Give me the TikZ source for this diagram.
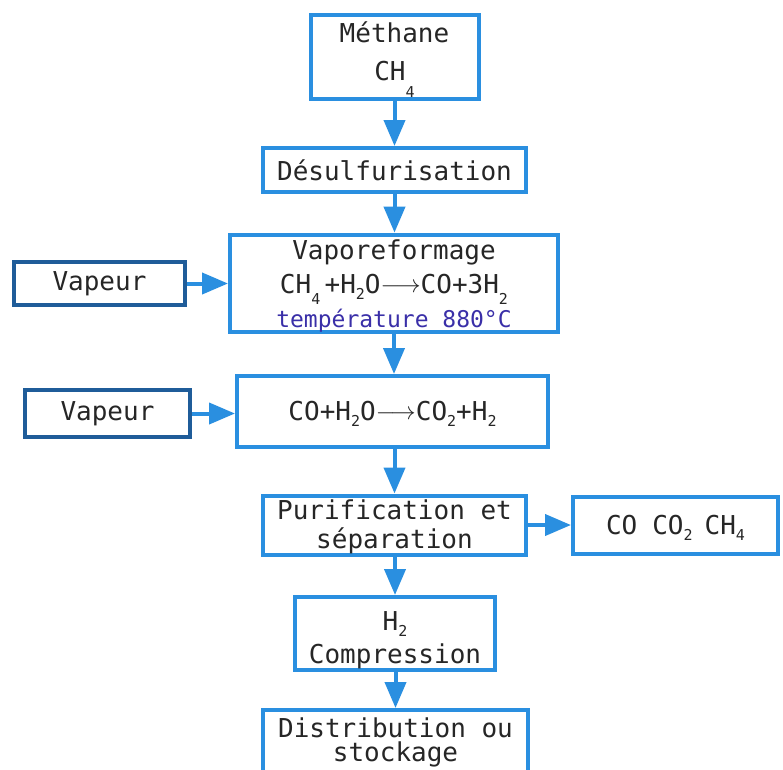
\documentclass[tikz,border=0pt]{standalone}
\usepackage{fontspec}
\setmonofont{DejaVu Sans Mono}
\usetikzlibrary{arrows.meta}
\definecolor{bl}{HTML}{2A8FE0}
\definecolor{dbl}{HTML}{1F5C99}
\definecolor{txt}{HTML}{262626}
\definecolor{tmp}{HTML}{3A2FA8}
\newcommand{\sbx}[2][6pt]{\raisebox{-#1}[0pt][0pt]{\fontsize{15}{15}\selectfont #2}}
\newcommand{\rarr}{\raisebox{0.05em}{$\longrightarrow$}}
\begin{document}
\begin{tikzpicture}[x=1pt,y=-1pt,
  box/.style={draw=bl, line width=4pt, fill=white, text=txt,
    font=\ttfamily\fontsize{26}{34}\selectfont, align=center, inner sep=0pt},
  vbox/.style={box, draw=dbl},
  arr/.style={draw=bl, line width=4pt, -{Triangle[length=26pt,width=21pt]}}
]
\useasboundingbox[fill=white] (0,0) rectangle (783,769);

\node[box, minimum width=168pt, minimum height=84pt, font=\ttfamily\fontsize{26}{38}\selectfont] (meth) at (394.5,57) {Méthane\\CH\sbx[17pt]{4}\rule[-12pt]{0pt}{0pt}};
\node[box, minimum width=263pt, minimum height=44pt] (desulf) at (394.5,170) {Désulfurisation};
\node[box, minimum width=328pt, minimum height=97pt] (vapo) at (394,283.5)
  {\rule{0pt}{25pt}Vaporeformage\\CH\sbx[11pt]{4}\,+H\sbx{2}O\rarr CO+3H\sbx[11pt]{2}\\{\color{tmp}\fontsize{23}{35}\selectfont température 880°C}};
\node[vbox, minimum width=171pt, minimum height=43pt] (vap1) at (99.5,283.5) {Vapeur};
\node[box, minimum width=311pt, minimum height=71pt] (shift) at (392.5,411.5)
  {CO+H\sbx{2}O\rarr CO\sbx{2}+H\sbx{2}};
\node[vbox, minimum width=165pt, minimum height=47pt] (vap2) at (107.5,413.5) {Vapeur};
\node[box, minimum width=263pt, minimum height=59pt, font=\ttfamily\fontsize{26}{29}\selectfont] (purif) at (394.5,525) {\rule{0pt}{23pt}Purification et\\séparation};
\node[box, minimum width=205pt, minimum height=57pt] (out) at (675.5,525) {CO\hspace{15pt}CO\sbx{2}\hspace{12pt}CH\sbx{4}};
\node[box, minimum width=200pt, minimum height=73pt, font=\ttfamily\fontsize{26}{33}\selectfont] (comp) at (395,633.5) {\rule{0pt}{32pt}H\sbx{2}\\Compression};
\node[box, minimum width=265pt, minimum height=70pt, font=\ttfamily\fontsize{26}{24}\selectfont] (distr) at (395.5,745) {Distribution ou\\stockage\rule[-10pt]{0pt}{0pt}};

\draw[arr] (meth.south -| desulf.north) -- (desulf.north);
\draw[arr] (desulf.south) -- (desulf.south |- vapo.north);
\draw[arr] (vapo.south) -- (vapo.south |- shift.north);
\draw[arr] (vap1.east) -- (vap1.east -| vapo.west);
\draw[arr] (vap2.east) -- (vap2.east -| shift.west);
\draw[arr] (shift.south -| purif.north) -- (purif.north);
\draw[arr] (purif.east |- out.west) -- (out.west);
\draw[arr] (purif.south -| comp.north) -- (comp.north);
\draw[arr] (comp.south -| distr.north) -- (distr.north);
\end{tikzpicture}
\end{document}
